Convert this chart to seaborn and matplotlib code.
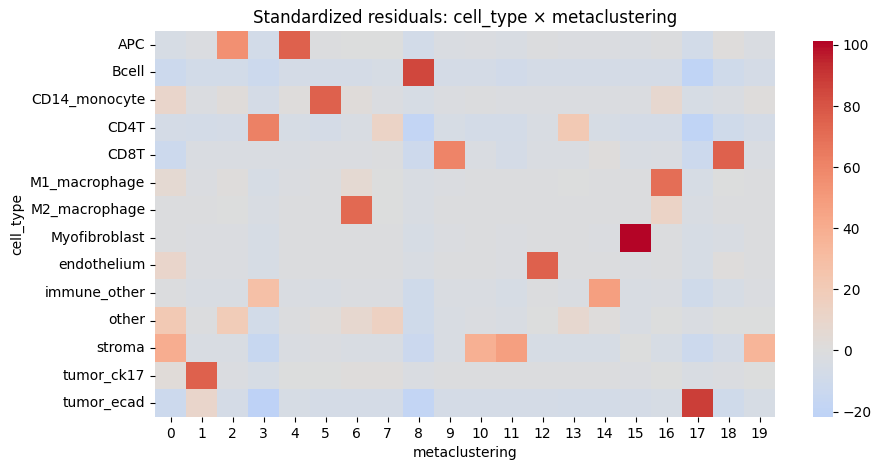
import numpy as np
import pandas as pd
import matplotlib
matplotlib.use("Agg")
import matplotlib.pyplot as plt
import seaborn as sns

cell_types = ["APC", "Bcell", "CD14_monocyte", "CD4T", "CD8T", "M1_macrophage",
              "M2_macrophage", "Myofibroblast", "endothelium", "immune_other",
              "other", "stroma", "tumor_ck17", "tumor_ecad"]
clusters = [str(i) for i in range(20)]

apc = [-5, -2, 55, -8, 75, -1, 0, 0, -8, -3, -2, -4, -1, -2, -2, -3, -1, -8, 1, -3]
bcell = [-12, -8, -8, -12, -6, -6, -6, -5, 85, -6, -6, -9, -6, -6, -6, -6, -6, -20, -10, -6]
cd14 = [10, -2, 2, -6, 1, 75, 2, -2, -5, -2, -1, -2, -2, -2, -2, -2, 8, -5, -3, 1]
cd4t = [-6, -7, -6, 62, -5, -6, -4, 12, -18, -5, -7, -7, -4, 22, -5, -6, -6, -20, -10, -6]
cd8t = [-12, -3, -3, -3, -3, -2, -2, -1, -11, 60, -3, -6, -3, -3, 1, -4, -3, -12, 75, -3]
m1 = [6, -2, 1, -5, -2, -1, 6, 0, -4, -2, -1, -1, -1, 0, -1, -1, 70, -5, 0, -1]
m2 = [-1, -1, 0, -4, -1, -1, 72, 0, -4, -1, -1, -1, -1, -1, -1, -1, 12, -4, -1, -1]
myo = [-1, -2, -2, -5, -1, -1, -1, -1, -5, -2, -1, -2, -1, -1, -2, 101.3, -1, -5, -4, -1]
endo = [10, -2, -2, -5, -1, -1, -1, -1, -4, -1, -1, -2, 75, -1, -1, -2, -1, -5, 1, -1]
immune = [-1, -4, -4, 28, -3, -4, -2, -2, -10, -3, -3, -5, -1, -3, 48, -4, -3, -10, -5, -2]
other = [22, -1, 20, -8, -1, 1, 8, 15, -10, -4, -2, -4, 0, 8, 1, -4, 0, -3, 0, 0]
stroma = [40, -4, -4, -15, -3, -2, -4, -4, -13, -4, 38, 48, -5, -5, -5, 0, -5, -12, -6, 35]
ck17 = [3, 75, -2, -5, 0, 0, 1, 1, -3, -1, -1, -1, -1, -1, -1, -2, 0, -4, -2, 0]
ecad = [-12, 10, -6, -21.8, -5, -6, -6, -6, -18, -6, -6, -6, -6, -7, -7, -6, -5, 88, -10, -5]

data = pd.DataFrame([apc, bcell, cd14, cd4t, cd8t, m1, m2, myo, endo, immune,
                     other, stroma, ck17, ecad], index=cell_types, columns=clusters)
data.index.name = "cell_type"
data.columns.name = "metaclustering"

W, H = 881, 470
fig = plt.figure(figsize=(W / 100, H / 100), dpi=100)
ax = fig.add_axes([155 / W, (H - 417) / H, (775 - 155) / W, (417 - 31) / H])
cax = fig.add_axes([813 / W, (H - 417) / H, (833 - 813) / W, (417 - 41) / H])

sns.heatmap(data, cmap="coolwarm", center=0, ax=ax, cbar_ax=cax)
ax.set_title("Standardized residuals: cell_type × metaclustering", fontsize=12)
ax.set_xlabel("metaclustering")
ax.set_ylabel("cell_type")
ax.tick_params(axis="y", rotation=0)
ax.tick_params(axis="x", rotation=0)
fig.savefig("out.png", dpi=100)
